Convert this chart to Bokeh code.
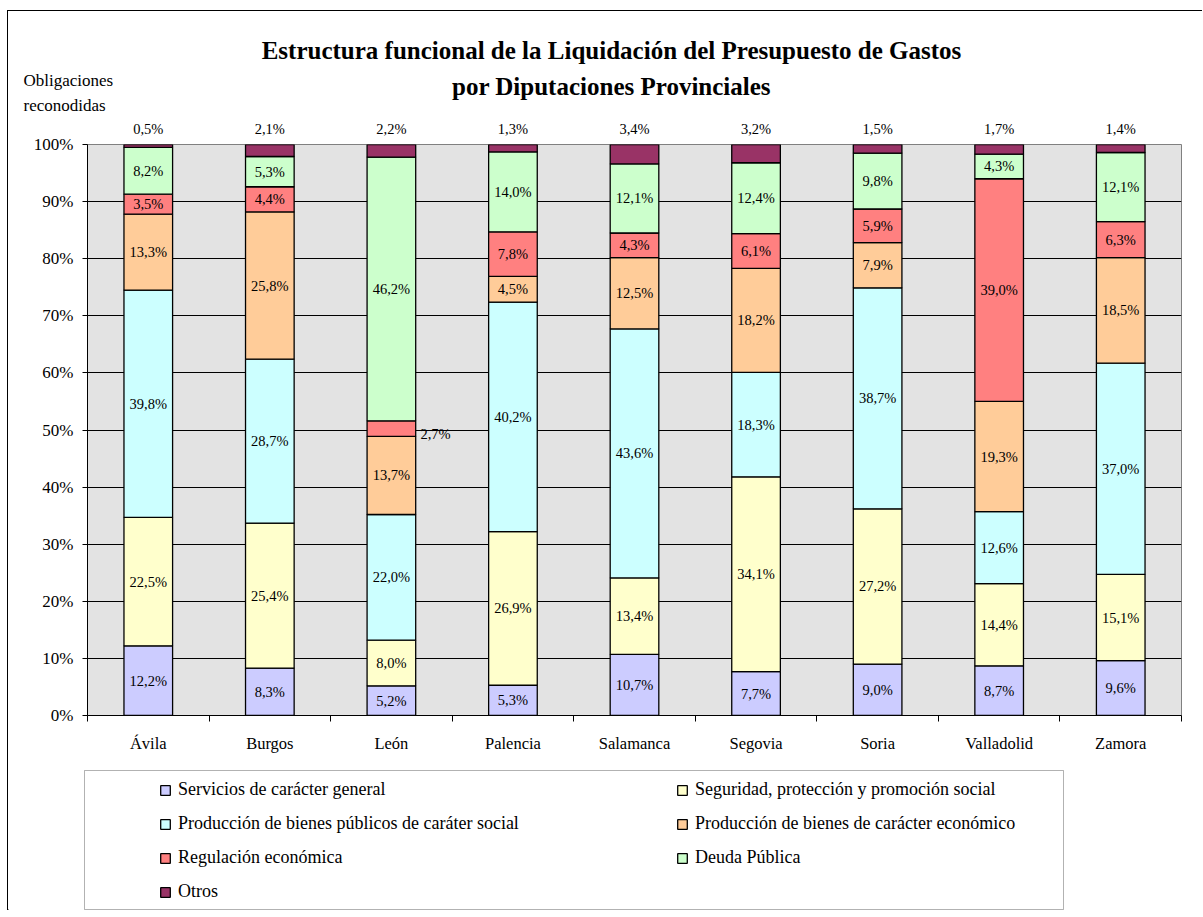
from bokeh.plotting import figure
from bokeh.layouts import column
from bokeh.models import (FixedTicker, Range1d, Legend, LegendItem, Label, LinearAxis,
                          ColumnDataSource, BoxAnnotation)
from bokeh.core.properties import value
from bokeh.embed import file_html
from bokeh.resources import INLINE

provincias = ["Ávila", "Burgos", "León", "Palencia", "Salamanca", "Segovia", "Soria", "Valladolid", "Zamora"]

series_names = [
    "Servicios de carácter general",
    "Seguridad, protección y promoción social",
    "Producción de bienes públicos de caráter social",
    "Producción de bienes de carácter económico",
    "Regulación económica",
    "Deuda Pública",
    "Otros",
]
series_keys = ["serv", "seg", "prod_soc", "prod_eco", "reg", "deuda", "otros"]
colors = ["#CCCCFF", "#FFFFCC", "#CCFFFF", "#FFCC99", "#FF8080", "#CCFFCC", "#993366"]

serv = [12.2, 8.3, 5.2, 5.3, 10.7, 7.7, 9.0, 8.7, 9.6]
seg = [22.5, 25.4, 8.0, 26.9, 13.4, 34.1, 27.2, 14.4, 15.1]
prod_soc = [39.8, 28.7, 22.0, 40.2, 43.6, 18.3, 38.7, 12.6, 37.0]
prod_eco = [13.3, 25.8, 13.7, 4.5, 12.5, 18.2, 7.9, 19.3, 18.5]
reg = [3.5, 4.4, 2.7, 7.8, 4.3, 6.1, 5.9, 39.0, 6.3]
deuda = [8.2, 5.3, 46.2, 14.0, 12.1, 12.4, 9.8, 4.3, 12.1]
otros = [0.5, 2.1, 2.2, 1.3, 3.4, 3.2, 1.5, 1.7, 1.4]

y_ticks = [0, 10, 20, 30, 40, 50, 60, 70, 80, 90, 100]
y_tick_labels = ["0%", "10%", "20%", "30%", "40%", "50%", "60%", "70%", "80%", "90%", "100%"]

title_lines = ["Estructura funcional de la Liquidación del Presupuesto de Gastos",
               "por Diputaciones Provinciales"]
y_title_lines = ["Obligaciones", "reconodidas"]

FONT = "Liberation Serif"
W = 1194


def fmt(v):
    return ("%.1f" % v).replace(".", ",") + "%"


all_series = [serv, seg, prod_soc, prod_eco, reg, deuda, otros]
xs = [i + 0.5 for i in range(len(provincias))]
data = {"x": xs}
for k, s in zip(series_keys, all_series):
    data[k] = s
source = ColumnDataSource(data)

# ---------------- top figure: titles ----------------
TOP_H = 103
pt = figure(width=W, height=TOP_H, x_range=Range1d(0, W), y_range=Range1d(TOP_H, 0),
            output_backend="svg", toolbar_location=None, frame_align=False,
            x_axis_location=None, y_axis_location=None,
            min_border=0, min_border_left=0, min_border_right=0, min_border_top=0, min_border_bottom=0)
pt.grid.visible = False
pt.outline_line_color = None
pt.background_fill_color = "white"
for txt, yy in zip(title_lines, [39, 75]):
    pt.add_layout(Label(x=603, y=yy, text=txt, text_align="center", text_baseline="middle",
                        text_font=FONT, text_font_style="bold", text_font_size="25px",
                        text_color="black"))
for txt, yy in zip(y_title_lines, [69, 94]):
    pt.add_layout(Label(x=15, y=yy, text=txt, text_align="left", text_baseline="middle",
                        text_font=FONT, text_font_size="17px", text_color="black"))

# ---------------- main figure ----------------
p = figure(width=W, height=30 + 571 + 45, x_range=Range1d(0, 9), y_range=Range1d(0, 100),
           output_backend="svg", toolbar_location=None, frame_align=False,
           min_border_left=79, min_border_right=21, min_border_top=30, min_border_bottom=45)

p.background_fill_color = "#e3e3e3"
p.border_fill_color = "white"
p.outline_line_color = "#808080"

renderers = p.vbar_stack(series_keys, x="x", width=0.4, source=source, color=colors,
                         line_color="black", line_width=1.3)

lx, ly, lt = [], [], []
ox, oy, ot = [], [], []
for i, x in enumerate(xs):
    bottom = 0.0
    for s in all_series[:-1]:
        v = s[i]
        mid = bottom + v / 2.0
        if v < 3.0:
            ox.append(x); oy.append(mid); ot.append(fmt(v))
        else:
            lx.append(x); ly.append(mid); lt.append(fmt(v))
        bottom += v

p.text(x=lx, y=ly, text=lt, text_align="center", text_baseline="middle",
       text_font=value(FONT), text_font_size="14.5px", text_color="black")
p.text(x=ox, y=oy, text=ot, text_align="left", text_baseline="middle", x_offset=29, y_offset=5,
       text_font=value(FONT), text_font_size="14.5px", text_color="black")

# Otros values above each bar (axis on top)
top_axis = LinearAxis(ticker=FixedTicker(ticks=xs),
                      major_label_overrides={x: fmt(v) for x, v in zip(xs, otros)},
                      axis_line_color=None, major_tick_line_color=None, minor_tick_line_color=None,
                      major_tick_out=0, major_tick_in=0, minor_tick_out=0, minor_tick_in=0,
                      major_label_standoff=8, major_label_text_font=FONT,
                      major_label_text_font_size="14.5px", major_label_text_color="black")
p.add_layout(top_axis, "above")

p.yaxis.ticker = FixedTicker(ticks=y_ticks)
p.yaxis.major_label_overrides = {t: l for t, l in zip(y_ticks, y_tick_labels)}
p.yaxis.minor_tick_line_color = None
p.yaxis.major_tick_in = 0
p.yaxis.major_tick_out = 5
p.yaxis.major_label_standoff = 9
p.yaxis.axis_line_color = "black"
p.yaxis.major_tick_line_color = "black"
p.yaxis.major_label_text_font = FONT
p.yaxis.major_label_text_font_size = "17px"
p.yaxis.major_label_text_color = "black"

xa = p.below[0]
xa.ticker = FixedTicker(ticks=xs, minor_ticks=list(range(len(provincias) + 1)))
xa.major_label_overrides = {x: n for x, n in zip(xs, provincias)}
xa.major_tick_line_color = None
xa.major_tick_out = 0
xa.minor_tick_line_color = "black"
xa.minor_tick_in = 0
xa.minor_tick_out = 6
xa.major_label_standoff = 12
xa.axis_line_color = "black"
xa.major_label_text_font = FONT
xa.major_label_text_font_size = "16.5px"
xa.major_label_text_color = "black"

p.xgrid.visible = False
p.ygrid.ticker = FixedTicker(ticks=y_ticks)
p.ygrid.grid_line_color = "black"
p.ygrid.grid_line_width = 1

# ---------------- legend figure ----------------
LEG_H = 150
pl = figure(width=W, height=LEG_H, x_range=Range1d(0, W), y_range=Range1d(0, LEG_H),
            output_backend="svg", toolbar_location=None, frame_align=False,
            x_axis_location=None, y_axis_location=None,
            min_border=0, min_border_left=0, min_border_right=0, min_border_top=0, min_border_bottom=0)
pl.grid.visible = False
pl.outline_line_color = None
pl.background_fill_color = "white"

# stand-in glyphs placed off-range, used only for the legend swatches
leg_renderers = [pl.vbar(x=[-1000], top=[-1000], bottom=[-1001], width=0.4, fill_color=c,
                         line_color="black", line_width=1.3)
                 for c in colors]

pl.add_layout(BoxAnnotation(left=76, right=1055, bottom=1, top=140,
                            fill_color=None, fill_alpha=0, line_color="black", line_width=1,
                            editable=False))

legend = Legend(items=[LegendItem(label=n, renderers=[r]) for n, r in zip(series_names, leg_renderers)],
                location=(151, 8), orientation="horizontal", ncols=2,
                border_line_color=None, background_fill_alpha=0, padding=0, margin=0,
                glyph_width=12, glyph_height=12, label_standoff=7, label_width=485,
                label_height=20, spacing=13,
                label_text_font=FONT, label_text_font_size="18px", label_text_color="black")
pl.add_layout(legend, "center")

layout = column(pt, p, pl, spacing=0)
layout.styles = {"margin-left": "7px", "margin-top": "10px",
                 "border-left": "1px solid black", "border-top": "1px solid black"}

open("out.html", "w").write(file_html(layout, INLINE))
